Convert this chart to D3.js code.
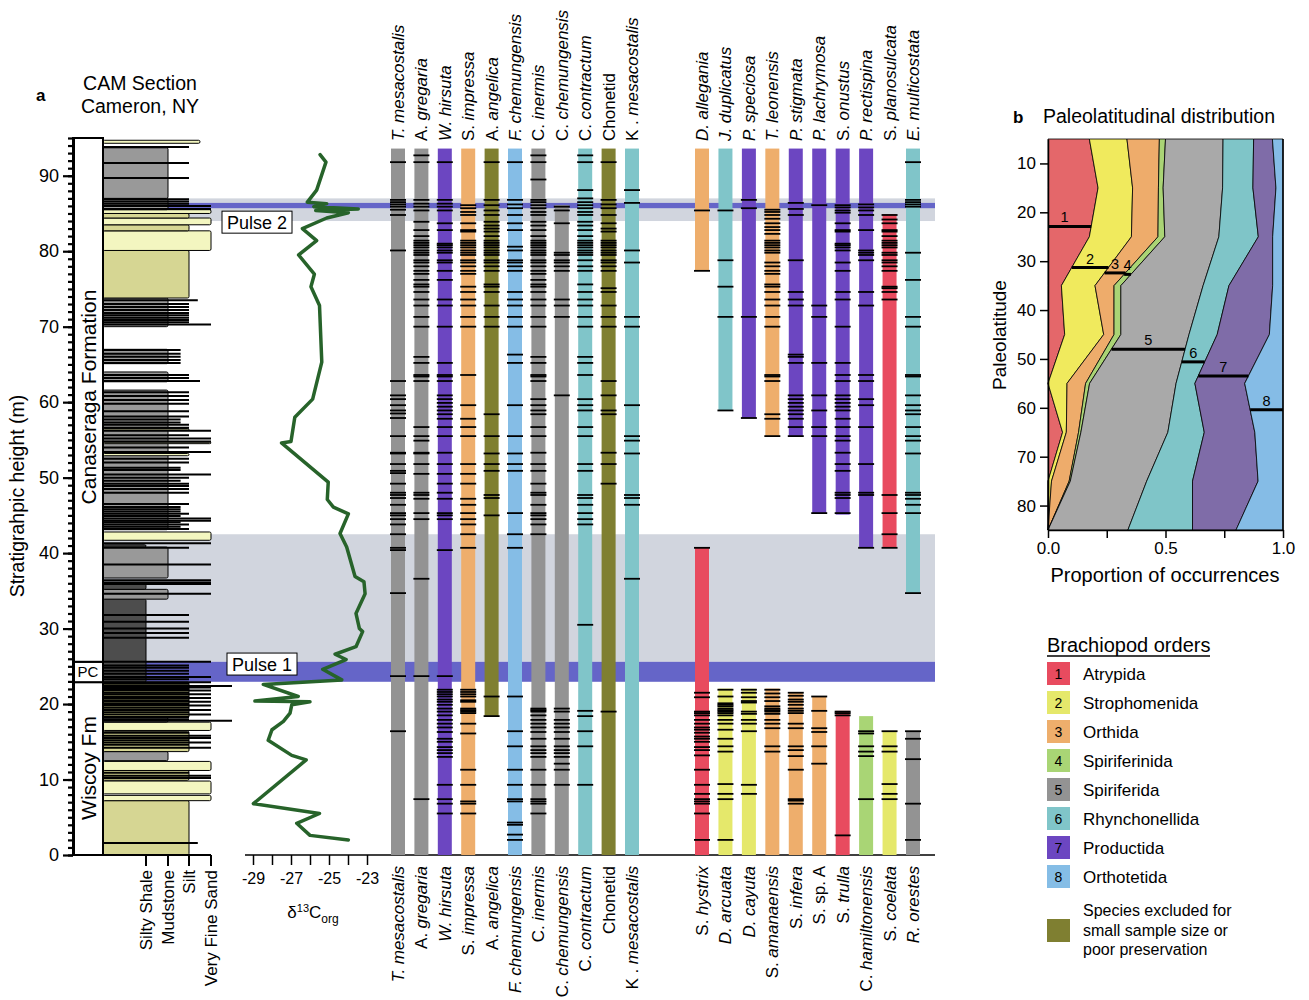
<!DOCTYPE html>
<html>
<head>
<meta charset="utf-8">
<script src="https://cdn.jsdelivr.net/npm/d3@7"></script>
<style>
  body { margin: 0; background: #fff; }
  svg text { font-family: "Liberation Sans", Arial, sans-serif; fill: #000; }
</style>
</head>
<body>
<div id="chart"></div>
<script>

// ---------- data: stratigraphy (heights in m) ----------

// lithology beds: [bottom, top, type, grain override]
var beds = [
  [0, 7.2, "silt"], [7.2, 7.9, "vfs"], [8.1, 9.8, "vfs"], [9.9, 11.2, "silt"],
  [11.2, 12.4, "vfs"], [12.5, 13.7, "mud"], [13.7, 16.4, "silt"], [16.5, 17.6, "vfs"],
  [17.6, 18.2, "mud"], [18.2, 22.9, "silt"], [22.9, 33.9, "shale"], [33.9, 35.2, "mud"],
  [35.2, 35.9, "shale"], [36.7, 40.8, "mud"], [40.8, 41.1, "shale"], [41.7, 42.8, "vfs"],
  [43.1, 61.6, "mud"], [52.9, 53.2, "vfs", 3], [54.5, 54.7, "vfs", 4], [56.3, 56.5, "vfs", 3],
  [62.7, 64.0, "mud"], [65.1, 67.0, "mud"], [70.0, 73.8, "mud"], [73.8, 80.1, "silt"],
  [80.1, 82.7, "vfs"], [82.7, 83.5, "silt"], [83.5, 84.4, "vfs"], [84.4, 85.0, "silt"],
  [85.0, 85.5, "vfs"], [85.5, 87.0, "mud"], [87.0, 93.7, "mud"], [94.3, 94.7, "vfs", 3.5]
];

// thin black beds: [height, grain reached]
var thinBeds = [
  [1.6, 3.4], [10.2, 4], [10.5, 4], [10.9, 3], [14.2, 4], [14.6, 3], [14.9, 4], [15.2, 3], [15.5, 4], [15.8, 4], [16.2, 3],
  [17.8, 5], [18.0, 3], [18.3, 3], [18.6, 4], [18.9, 3], [19.2, 4], [19.5, 3], [19.8, 4], [20.0, 3], [20.3, 4], [20.5, 3],
  [20.8, 4], [21.0, 3], [21.3, 4], [21.5, 3], [21.8, 4], [22.0, 3], [22.2, 4], [22.4, 5], [22.7, 3], [22.9, 4],
  [23.3, 3], [23.6, 4], [24.0, 3], [24.4, 3], [24.8, 3], [25.1, 3], [25.6, 4],
  [28.8, 3], [29.4, 3], [30.0, 3], [30.9, 3], [31.8, 3],
  [34.6, 4], [35.9, 4], [36.1, 4], [36.4, 4], [38.5, 4], [40.7, 3], [41.3, 4],
  [43.2, 3], [43.5, 2.6], [43.8, 3], [44.1, 2.6], [44.3, 4], [44.6, 4], [44.9, 2.6], [45.2, 3], [45.5, 2.6], [45.8, 2.6], [46.1, 2.6], [46.5, 3],
  [48.0, 3], [48.5, 3], [48.9, 3], [49.2, 3], [49.6, 2.6], [50.0, 3], [50.4, 4], [51.0, 2.6], [51.3, 2.6], [52.0, 3], [52.5, 3],
  [53.4, 4], [54.0, 3], [54.8, 4], [55.2, 4], [55.6, 3], [56.2, 4], [56.6, 3], [57.0, 3], [57.3, 2.6], [57.7, 2.6], [58.1, 3],
  [58.8, 3], [59.8, 3], [60.3, 3], [60.8, 3], [61.3, 3],
  [62.8, 3.5], [63.2, 3], [63.6, 3], [65.2, 2.6], [65.6, 2.6], [66.0, 2.6], [66.4, 2.6], [66.9, 2.6],
  [70.3, 4], [70.6, 3], [70.9, 3], [71.2, 3], [71.5, 3], [71.8, 3], [72.2, 3], [72.6, 3], [73.0, 3], [73.5, 3.4],
  [85.6, 4], [86.0, 4], [86.3, 3], [86.6, 3], [86.9, 3], [89.7, 3], [91.7, 3], [93.8, 3]
];

var grainTicks = ["Silty Shale", "Mudstone", "Silt", "Very Fine Sand"];

// formations: [bottom, top, label]
var formations = [[0, 22.9, "Wiscoy Fm"], [22.9, 25.6, "PC"], [25.6, 95, "Canaseraga Formation"]];

// bands
var grayBands = [[84.0, 87.0], [25.6, 42.5]];
var pulseBands = [[85.7, 86.4], [22.95, 25.6]];
var pulseNames = ["Pulse 2", "Pulse 1"];
var pulseLabelH = [83.85, 25.3];

// carbon isotope curve (height, d13C org), top to bottom
var isoHeight = [92.8, 91.8, 88.1, 86.5, 86.3, 85.9, 85.6, 85.4, 85.1, 84.4, 83.0, 81.4, 79.5, 76.95, 75.3, 72.8,
  65.3, 60.4, 58.0, 54.8, 54.6, 49.4, 47.1, 46.1, 45.2, 42.6, 40.8, 36.9, 36.2, 34.6, 32.0, 30.0, 29.6, 27.6,
  26.6, 25.9, 24.6, 23.2, 22.6, 21.0, 20.4, 20.3, 19.9, 18.8, 17.7, 16.6, 15.2, 13.2, 12.6, 6.8, 5.5, 4.2, 2.6, 2.0];
var isoValue = [-25.47, -25.16, -25.65, -26.14, -25.12, -25.8, -23.46, -25.7, -23.98, -25.12, -26.4, -25.65, -26.6, -25.77, -25.95, -25.5,
  -25.38, -25.86, -26.8, -27.0, -27.5, -25.04, -25.09, -24.77, -23.98, -24.42, -24.07, -23.63, -23.16, -23.1, -23.58, -23.4, -23.23, -23.58,
  -24.68, -24.1, -25.33, -24.33, -28.46, -26.62, -28.9, -26.0, -26.96, -27.05, -27.4, -28.0, -28.2, -26.96, -26.2, -28.98, -25.5, -26.7, -26.0, -23.98];

// ---------- data: species ranges ----------

var leftNames = ["T. mesacostalis", "A. gregaria", "W. hirsuta", "S. impressa", "A. angelica", "F. chemungensis",
  "C. inermis", "C. chemungensis", "C. contractum", "Chonetid", "K . mesacostalis"];
var leftItalicGenus = [1, 0, 1, 0, 0, 1, 0, 0, 0, 0, 0];
var leftOrder = ["Spi", "Spi", "Pro", "Ort", "Exc", "Oth", "Spi", "Spi", "Rhy", "Exc", "Rhy"];
var leftBase = [0, 0, 0, 0, 18.4, 0, 0, 0, 0, 0, 0];
var leftTop = [93.6, 93.6, 93.6, 93.6, 93.6, 93.6, 93.6, 86.1, 93.6, 93.6, 93.6];
var leftOcc = [
  [91.8, 86.8, 86.5, 86.2, 85.9, 85.5, 84.8, 80.1, 62.8, 60.9, 60.4, 59.6, 58.9, 58.5, 57.9, 55.5, 53.3, 53.2, 51.8, 50.9, 50.6,
    49.2, 48.0, 47.7, 47.3, 46.4, 45.3, 45.0, 44.5, 43.8, 42.5, 40.7, 40.4, 34.7, 23.7, 16.4],
  [92.7, 91.8, 86.8, 86.3, 85.9, 85.4, 83.9, 82.8, 82.0, 81.4, 81.1, 80.8, 80.5, 80.1, 79.8, 79.5, 78.8, 78.5, 78.0, 77.4, 77.0,
    76.2, 75.6, 75.3, 74.6, 73.6, 72.8, 71.3, 70.0, 66.0, 65.2, 63.6, 63.4, 62.8, 56.7, 55.5, 54.9, 53.3, 53.2, 51.8, 50.5, 48.0,
    47.7, 47.2, 45.3, 44.5, 36.6, 23.7, 7.4],
  [91.8, 86.8, 86.3, 85.9, 85.4, 83.7, 82.8, 81.0, 80.8, 80.5, 80.1, 79.8, 78.8, 78.5, 77.4, 76.2, 73.6, 72.8, 70.0, 65.2, 63.6,
    63.4, 62.8, 60.9, 60.4, 59.9, 59.4, 58.9, 58.4, 57.8, 56.7, 55.5, 53.3, 51.8, 50.5, 49.2, 48.0, 47.2, 45.3, 45.0, 44.5, 40.4,
    23.7, 21.9, 21.6, 21.3, 21.0, 20.6, 20.3, 19.9, 19.4, 19.0, 18.5, 17.9, 17.4, 16.9, 16.3, 15.4, 15.0, 14.3, 13.9, 13.5, 13.0,
    9.3, 7.4, 6.8, 5.5],
  [86.1, 85.7, 85.2, 84.8, 83.7, 82.8, 82.6, 81.4, 81.1, 80.8, 80.5, 80.1, 79.8, 79.5, 78.8, 78.5, 78.0, 77.4, 77.0, 75.3, 74.6,
    73.6, 72.8, 71.3, 70.0, 63.6, 59.6, 57.8, 56.7, 55.5, 51.8, 50.5, 49.2, 47.2, 46.4, 45.3, 44.5, 43.8, 42.5, 40.7,
    21.9, 21.6, 21.3, 21.0, 20.5, 20.3, 19.4, 19.2, 19.0, 18.8, 17.4, 16.1, 11.3, 9.3, 7.1, 6.8, 5.5],
  [91.8, 86.8, 86.1, 85.4, 84.8, 83.9, 83.4, 83.0, 82.6, 82.0, 81.4, 81.1, 80.8, 80.5, 80.1, 79.8, 79.5, 78.8, 78.5, 78.0, 77.4,
    75.6, 75.3, 74.6, 72.8, 71.3, 70.0, 58.4, 55.5, 53.2, 51.8, 50.9, 47.7, 47.3, 45.0, 21.0, 18.4],
  [91.8, 86.8, 86.2, 85.7, 84.8, 83.7, 82.8, 80.6, 80.1, 78.8, 78.5, 78.0, 77.4, 74.6, 73.6, 72.8, 71.3, 70.0, 66.3, 65.2, 59.6,
    55.5, 53.2, 51.8, 50.9, 45.3, 42.5, 40.7, 21.0, 16.4, 14.4, 11.3, 9.3, 7.4, 7.1, 4.3, 4.0, 2.7, 2.0],
  [92.7, 91.8, 89.5, 86.8, 86.5, 86.1, 85.7, 85.2, 84.8, 83.9, 83.4, 82.8, 82.0, 81.4, 81.1, 80.8, 80.5, 80.1, 79.8, 79.5, 78.8,
    78.5, 78.0, 77.4, 77.0, 76.2, 75.6, 75.3, 74.6, 73.6, 72.8, 71.3, 70.0, 66.0, 65.2, 63.6, 63.4, 62.8, 60.4, 59.6, 58.9, 58.4,
    56.7, 55.5, 53.3, 51.8, 50.9, 49.2, 48.0, 47.7, 46.4, 45.3, 45.0, 44.5, 43.8, 42.5,
    19.4, 19.2, 19.0, 18.5, 17.9, 17.4, 16.9, 16.3, 15.4, 14.4, 13.9, 13.5, 13.0, 11.3, 9.3, 7.4, 7.1, 6.8, 5.5],
  [85.9, 85.4, 83.7, 79.8, 79.5, 78.8, 78.5, 78.0, 77.4, 73.6, 72.8, 71.3, 60.9,
    19.4, 19.0, 17.9, 17.4, 16.9, 16.3, 15.4, 14.4, 13.9, 13.5, 13.0, 12.1, 11.3, 9.3],
  [92.7, 91.8, 88.1, 87.0, 86.5, 86.1, 85.7, 85.2, 84.8, 83.9, 83.4, 82.8, 82.0, 81.4, 81.1, 80.8, 80.5, 80.1, 79.8, 79.5, 78.8,
    78.0, 77.4, 75.6, 74.6, 73.6, 72.8, 71.3, 70.0, 66.0, 65.2, 63.6, 60.4, 59.6, 58.9, 56.7, 55.5, 51.8, 50.9, 47.7, 47.3, 46.4,
    45.3, 44.5, 43.8, 30.5, 19.1, 18.4, 16.4, 14.4, 9.3],
  [91.8, 86.8, 86.2, 85.7, 84.8, 83.7, 83.0, 82.6, 81.4, 81.1, 80.8, 80.5, 80.1, 79.8, 79.5, 78.8, 78.5, 78.0, 77.4, 75.1, 74.6,
    72.8, 71.3, 70.0, 62.8, 60.9, 58.9, 58.4, 53.3, 51.8, 49.2, 19.0],
  [88.1, 86.4, 80.1, 78.5, 71.3, 70.0, 59.6, 55.5, 54.9, 53.2, 47.7, 47.3, 46.4, 36.6]
];

var rtNames = ["D. allegania", "J. duplicatus", "P. speciosa", "T. leonensis", "P. stigmata", "P. lachrymosa",
  "S. onustus", "P. rectispina", "S. planosulcata", "E. multicostata"];
var rtItalicGenus = [1, 1, 1, 1, 1, 1, 0, 1, 0, 1];
var rtOrder = ["Ort", "Rhy", "Pro", "Ort", "Pro", "Pro", "Pro", "Pro", "Atr", "Rhy"];
var rtBase = [77.4, 58.9, 57.9, 55.5, 55.5, 45.3, 45.1, 40.7, 40.7, 34.6];
var rtTop = [93.6, 93.6, 93.6, 93.6, 93.6, 93.6, 93.6, 93.6, 84.9, 93.6];
var rtOcc = [
  [85.4, 77.4],
  [85.4, 78.8, 75.3, 71.3, 58.9],
  [86.8, 85.7, 71.3, 57.9],
  [85.5, 85.2, 84.8, 84.3, 83.7, 83.2, 82.8, 82.3, 81.4, 81.1, 80.8, 80.5, 80.1, 79.8, 78.5, 78.0, 77.4, 77.0, 75.6, 75.3, 74.6,
    73.6, 72.8, 71.3, 70.0, 63.6, 63.4, 62.8, 58.4, 57.8, 55.5],
  [86.4, 85.6, 84.8, 78.8, 74.6, 73.6, 72.8, 66.3, 66.0, 65.2, 60.9, 60.4, 59.9, 59.4, 58.9, 58.4, 57.8, 56.7, 55.5],
  [86.1, 72.8, 71.3, 65.2, 60.9, 58.9, 56.7, 55.5, 45.3],
  [86.1, 85.8, 85.4, 85.1, 83.7, 82.8, 82.6, 81.0, 80.8, 80.5, 80.1, 78.5, 77.4, 74.6, 73.6, 70.0, 65.2, 63.6, 62.8, 60.9, 60.4,
    59.9, 59.4, 58.9, 57.8, 56.7, 55.5, 54.9, 53.3, 51.8, 50.9, 48.0, 47.7, 47.3, 45.3],
  [86.2, 85.8, 85.4, 84.8, 82.8, 80.1, 79.8, 79.5, 78.8, 74.6, 72.8, 63.6, 62.8, 60.4, 59.6, 56.7, 51.8, 48.0, 47.7, 40.7],
  [84.8, 84.2, 83.7, 82.8, 82.6, 82.0, 81.4, 81.1, 80.8, 80.5, 79.8, 79.5, 78.8, 78.5, 78.0, 77.4, 75.3, 75.1, 74.6, 73.6, 47.7,
    45.3, 42.5, 40.7],
  [91.8, 86.8, 86.5, 86.2, 85.9, 79.8, 76.2, 71.3, 70.0, 63.6, 63.4, 60.9, 59.6, 58.9, 58.4, 56.7, 55.5, 54.9, 53.2, 48.0, 47.7,
    47.2, 46.4, 45.3, 34.7]
];

var rbNames = ["S. hystrix", "D. arcuata", "D. cayuta", "S. amanaensis", "S. infera", "S. sp. A", "S. trulla",
  "C. hamiltonensis", "S. coelata", "R. orestes"];
var rbItalicGenus = [0, 1, 1, 0, 0, 0, 0, 0, 0, 1];
var rbOrder = ["Atr", "Str", "Str", "Ort", "Ort", "Ort", "Atr", "Spn", "Str", "Spi"];
var rbTop = [40.8, 22.05, 22.05, 22.05, 21.6, 21.0, 19.1, 18.4, 16.45, 16.45];
var rbOcc = [
  [40.7, 21.5, 20.9, 19.0, 18.8, 18.5, 17.9, 17.4, 16.9, 16.6, 16.2, 15.7, 15.4, 15.0, 14.3, 13.9, 13.2, 11.3, 9.3, 8.1, 7.4,
    7.1, 6.8, 5.5, 2.0],
  [21.9, 21.0, 20.1, 19.9, 19.7, 19.4, 19.2, 19.0, 18.8, 18.5, 17.9, 17.4, 16.6, 15.4, 14.4, 13.7, 9.4, 8.1, 7.4, 2.0],
  [21.9, 21.5, 20.9, 20.4, 20.2, 19.0, 18.7, 17.9, 17.4, 16.4, 9.3, 8.1],
  [21.9, 21.4, 20.9, 20.4, 19.7, 19.4, 19.2, 19.0, 18.7, 17.9, 17.4, 16.8, 14.4, 13.7],
  [21.5, 21.1, 20.6, 20.3, 19.9, 19.4, 19.1, 18.8, 17.4, 16.8, 14.4, 13.9, 13.1, 11.3, 7.4, 7.2, 6.8],
  [21.0, 19.1, 16.8, 16.3, 14.4, 12.1],
  [19.0, 18.8, 18.5, 2.6],
  [16.4, 16.1, 14.4, 13.7, 13.1, 7.4],
  [16.4, 14.4, 13.7, 9.4, 8.1, 7.4],
  [16.4, 15.4, 12.7, 6.8, 2.0]
];

// ---------- data: panel b ----------
var latBins = [5, 15, 25, 35, 45, 55, 65, 75, 85];
var propAtr = [0.176, 0.213, 0.176, 0.057, 0.071, 0, 0.062, 0, 0];
var propStr = [0.160, 0.147, 0.179, 0.143, 0.166, 0.081, 0.016, 0.015, 0];
var propOrt = [0.138, 0.110, 0.113, 0.081, 0.044, 0.079, 0.052, 0.075, 0];
var propSpn = [0.026, 0.020, 0.029, 0.029, 0.029, 0.017, 0.010, 0.005, 0];
var propSpi = [0.245, 0.253, 0.230, 0.350, 0.290, 0.368, 0.370, 0.325, 0.340];
var propRhy = [0.130, 0.129, 0.168, 0.110, 0.120, 0.080, 0.155, 0.195, 0.275];
var propPro = [0.080, 0.098, 0.061, 0.186, 0.222, 0.212, 0.215, 0.279, 0.185];
var propOth = [0.045, 0.030, 0.044, 0.044, 0.058, 0.163, 0.120, 0.106, 0.200];
var medianLat = [22.9, 31.3, 32.4, 32.7, 48.0, 50.6, 53.5, 60.4];

var orderKeys = ["Atr", "Str", "Ort", "Spn", "Spi", "Rhy", "Pro", "Oth"];
var orderNames = ["Atrypida", "Strophomenida", "Orthida", "Spiriferinida", "Spiriferida", "Rhynchonellida", "Productida", "Orthotetida"];

// colours
var colA = { Atr: "#e84b5f", Str: "#e5e86b", Ort: "#eeae6c", Spn: "#a9d575", Spi: "#939393",
  Rhy: "#80c5c9", Pro: "#6c46c1", Oth: "#85bde6", Exc: "#7f7f31" };
var colB = { Atr: "#e4676a", Str: "#f0ea5d", Ort: "#eeac6b", Spn: "#aad475", Spi: "#a9a9a9",
  Rhy: "#7fc5c8", Pro: "#7f6ca8", Oth: "#85bce6" };
var lithCol = { shale: "#4d4d4d", mud: "#999999", silt: "#d6d693", vfs: "#f3f6c0" };
var lithGrain = { shale: 1, mud: 2, silt: 3, vfs: 4 };

// ---------- chart ----------
var svg = d3.select("#chart").append("svg").attr("width", 1309).attr("height", 1000);

var y = d3.scaleLinear().domain([0, 95]).range([855, 138]);
var xGrain = d3.scaleLinear().domain([0, 1, 2, 3, 4, 5]).range([103, 146, 168, 189, 211, 232]);
var xIso = d3.scaleLinear().domain([-29, -23]).range([253, 367]);
var xLeft = d3.scalePoint().domain(d3.range(leftNames.length)).range([398, 632]);
var xRight = d3.scalePoint().domain(d3.range(10)).range([702, 913]);
var barW = 14;

// titles
svg.append("text").attr("x", 36).attr("y", 101).style("font-size", "17px").style("font-weight", "bold").text("a");
svg.append("text").attr("x", 140).attr("y", 90).attr("text-anchor", "middle").style("font-size", "19.5px").text("CAM Section");
svg.append("text").attr("x", 140).attr("y", 113).attr("text-anchor", "middle").style("font-size", "19.5px").text("Cameron, NY");

// bands
svg.selectAll(".gband").data(grayBands).enter().append("rect")
  .attr("x", 103).attr("width", 832)
  .attr("y", function(d) { return y(d[1]); })
  .attr("height", function(d) { return y(d[0]) - y(d[1]); })
  .attr("fill", "#d1d5de");
svg.selectAll(".pband").data(pulseBands).enter().append("rect")
  .attr("x", 103).attr("width", 832)
  .attr("y", function(d) { return y(d[1]); })
  .attr("height", function(d) { return y(d[0]) - y(d[1]); })
  .attr("fill", "#6565c8");

// lithology
svg.selectAll(".bed").data(beds).enter().append("rect")
  .attr("x", 103)
  .attr("y", function(d) { return y(d[1]); })
  .attr("width", function(d) { return xGrain(d[3] || lithGrain[d[2]]) - 103; })
  .attr("height", function(d) { return Math.max(1, y(d[0]) - y(d[1])); })
  .attr("rx", 1.5)
  .attr("fill", function(d) { return lithCol[d[2]]; })
  .attr("stroke", "#000").attr("stroke-width", 1);

svg.selectAll(".thin").data(thinBeds).enter().append("line")
  .attr("x1", 103).attr("x2", function(d) { return xGrain(d[1]); })
  .attr("y1", function(d) { return y(d[0]); }).attr("y2", function(d) { return y(d[0]); })
  .attr("stroke", "#000").attr("stroke-width", 2);

// lithology axis
svg.append("line").attr("x1", 103).attr("x2", 211).attr("y1", 855).attr("y2", 855).attr("stroke", "#000").attr("stroke-width", 2);
grainTicks.forEach(function(t, i) {
  var gx = xGrain(i + 1);
  svg.append("line").attr("x1", gx).attr("x2", gx).attr("y1", 855).attr("y2", 866).attr("stroke", "#000").attr("stroke-width", 2);
  svg.append("text").attr("transform", "translate(" + (gx + 6) + ",870) rotate(-90)")
    .attr("text-anchor", "end").style("font-size", "17px").text(t);
});

// formation boxes
svg.selectAll(".fm").data(formations).enter().append("rect")
  .attr("x", 73).attr("width", 30)
  .attr("y", function(d) { return y(d[1]); })
  .attr("height", function(d) { return y(d[0]) - y(d[1]); })
  .attr("fill", "#fff").attr("stroke", "#000").attr("stroke-width", 2);
formations.forEach(function(f) {
  var cy = (y(f[0]) + y(f[1])) / 2;
  if (f[2] == "PC") {
    svg.append("text").attr("x", 88).attr("y", cy + 5.5).attr("text-anchor", "middle").style("font-size", "15px").text(f[2]);
  } else {
    var cyl = f[2] == "Canaseraga Formation" ? 397 : 768;
    svg.append("text").attr("transform", "translate(96," + cyl + ") rotate(-90)")
      .attr("text-anchor", "middle").style("font-size", "21px").text(f[2]);
  }
});

// stratigraphic axis
var gMinor = svg.append("g").attr("transform", "translate(73,0)")
  .call(d3.axisLeft(y).tickValues(d3.range(0, 96, 1)).tickSize(5).tickSizeOuter(0).tickFormat(""));
gMinor.selectAll("line").attr("stroke-width", 2.2);
gMinor.select(".domain").attr("stroke-width", 3);
var gMajor = svg.append("g").attr("transform", "translate(73,0)")
  .call(d3.axisLeft(y).tickValues(d3.range(0, 91, 10)).tickSize(10).tickSizeOuter(0).tickPadding(4));
gMajor.select(".domain").remove();
gMajor.selectAll("line").attr("stroke-width", 2.2);
gMajor.selectAll("text").style("font-size", "18px").attr("fill", "#000");
svg.append("text").attr("transform", "translate(24,496) rotate(-90)").attr("text-anchor", "middle")
  .style("font-size", "19.5px").text("Stratigrahpic height (m)");

// isotope axis + long baseline
svg.append("line").attr("x1", 245).attr("x2", 935).attr("y1", 855).attr("y2", 855).attr("stroke", "#000").attr("stroke-width", 1.5);
var gIso = svg.append("g").attr("transform", "translate(0,855)")
  .call(d3.axisBottom(xIso).tickValues(d3.range(-29, -22, 1)).tickSize(10).tickPadding(8)
    .tickFormat(function(d) { return d % 2 ? String(d) : ""; }));
gIso.select(".domain").remove();
gIso.selectAll("line").attr("stroke-width", 1.5);
gIso.selectAll("text").style("font-size", "16px").attr("fill", "#000");
var dl = svg.append("text").attr("x", 313).attr("y", 918).attr("text-anchor", "middle").style("font-size", "17px");
dl.append("tspan").text("\u03b4");
dl.append("tspan").attr("dy", -6).style("font-size", "11px").text("13");
dl.append("tspan").attr("dy", 6).text("C");
dl.append("tspan").attr("dy", 5).style("font-size", "12px").text("org");

// isotope curve
var isoPts = isoHeight.map(function(h, i) { return [isoValue[i], h]; });
svg.append("path").datum(isoPts)
  .attr("fill", "none").attr("stroke", "#27632a").attr("stroke-width", 3.5)
  .attr("stroke-linejoin", "round").attr("stroke-linecap", "round")
  .attr("d", d3.line().x(function(d) { return xIso(d[0]); }).y(function(d) { return y(d[1]); }));

// pulse labels
pulseNames.forEach(function(p, i) {
  var bx = i == 0 ? 222 : 227, cy = y(pulseLabelH[i]);
  svg.append("rect").attr("x", bx).attr("y", cy - 11).attr("width", 70).attr("height", 22)
    .attr("fill", "#fff").attr("stroke", "#000").attr("stroke-width", 1);
  svg.append("text").attr("x", bx + 35).attr("y", cy + 6.5).attr("text-anchor", "middle").style("font-size", "18px").text(p);
});

// species label helper
function speciesLabel(x, yy, name, italicGenus, anchor) {
  var t = svg.append("text").attr("transform", "translate(" + x + "," + yy + ") rotate(-90)")
    .attr("text-anchor", anchor).style("font-size", "17px");
  var k = name.indexOf(". ");
  if (k < 0) { t.text(name); return; }
  var rest = name.slice(k + 2);
  t.append("tspan").style("font-style", italicGenus ? "italic" : "normal").text(name.slice(0, k + 1));
  t.append("tspan").attr("dx", 4.5).style("font-style", rest.indexOf("sp.") == 0 ? "normal" : "italic").text(rest);
}

function drawBars(cls, xs, names, orders, base, top, occ) {
  var g = svg.append("g").attr("class", cls);
  names.forEach(function(n, i) {
    var cx = xs(i);
    g.append("rect").attr("x", cx - barW / 2).attr("width", barW)
      .attr("y", y(top[i])).attr("height", y(base[i]) - y(top[i]))
      .attr("fill", colA[orders[i]]);
    g.selectAll(".occ" + i).data(occ[i]).enter().append("line")
      .attr("x1", cx - barW / 2 - 1).attr("x2", cx + barW / 2 + 1)
      .attr("y1", function(d) { return y(d); }).attr("y2", function(d) { return y(d); })
      .attr("stroke", "#000").attr("stroke-width", 1.8);
  });
}

drawBars("left", xLeft, leftNames, leftOrder, leftBase, leftTop, leftOcc);
drawBars("rtop", xRight, rtNames, rtOrder, rtBase, rtTop, rtOcc);
drawBars("rbot", xRight, rbNames, rbOrder, rbNames.map(function() { return 0; }), rbTop, rbOcc);

leftNames.forEach(function(n, i) {
  speciesLabel(xLeft(i) + 6, 141, n, leftItalicGenus[i], "start");
  speciesLabel(xLeft(i) + 6, 866, n, leftItalicGenus[i], "end");
});
rtNames.forEach(function(n, i) { speciesLabel(xRight(i) + 6, 141, n, rtItalicGenus[i], "start"); });
rbNames.forEach(function(n, i) { speciesLabel(xRight(i) + 6, 866, n, rbItalicGenus[i], "end"); });

// ---------- panel b ----------
var xP = d3.scaleLinear().domain([0, 1]).range([1048, 1283]);
var yP = d3.scaleLinear().domain([5, 85]).range([139, 530]);

var rows = latBins.map(function(lat, i) {
  return { lat: lat, Atr: propAtr[i], Str: propStr[i], Ort: propOrt[i], Spn: propSpn[i],
    Spi: propSpi[i], Rhy: propRhy[i], Pro: propPro[i], Oth: propOth[i] };
});
var stacked = d3.stack().keys(orderKeys)(rows);

var area = d3.area()
  .y(function(d) { return yP(d.data.lat); })
  .x0(function(d) { return xP(d[0]); })
  .x1(function(d) { return xP(d[1]); });

svg.append("g").selectAll("path").data(stacked).enter().append("path")
  .attr("d", area)
  .attr("fill", function(d) { return colB[d.key]; })
  .attr("stroke", "#000").attr("stroke-width", 0.8);

// median lines
stacked.forEach(function(s, k) {
  var m = medianLat[k];
  var j = Math.min(latBins.length - 2, Math.floor((m - latBins[0]) / 10));
  var t = (m - latBins[j]) / (latBins[j + 1] - latBins[j]);
  var a0 = s[j][0] + (s[j + 1][0] - s[j][0]) * t;
  var a1 = s[j][1] + (s[j + 1][1] - s[j][1]) * t;
  svg.append("line").attr("x1", xP(a0)).attr("x2", xP(a1)).attr("y1", yP(m)).attr("y2", yP(m))
    .attr("stroke", "#000").attr("stroke-width", 3);
  svg.append("text").attr("x", xP((a0 + a1) / 2) - (k == 0 ? 5 : 0)).attr("y", yP(m) - 4)
    .attr("text-anchor", "middle").style("font-size", "14.5px").text(k + 1);
});

svg.append("line").attr("x1", 1283).attr("x2", 1283).attr("y1", 139).attr("y2", 530).attr("stroke", "#000").attr("stroke-width", 1.5);
var gPy = svg.append("g").attr("transform", "translate(1048,0)")
  .call(d3.axisLeft(yP).tickValues(d3.range(10, 81, 10)).tickSize(8).tickSizeOuter(0).tickPadding(4));
gPy.select(".domain").attr("stroke-width", 1.5);
gPy.selectAll("line").attr("stroke-width", 1.5);
gPy.selectAll("text").style("font-size", "17px").attr("fill", "#000");
var gPx = svg.append("g").attr("transform", "translate(0,530)")
  .call(d3.axisBottom(xP).tickValues([0, 0.25, 0.5, 0.75, 1]).tickSize(8).tickSizeOuter(0).tickPadding(4)
    .tickFormat(function(d) { return d * 2 % 1 == 0 ? d.toFixed(1) : ""; }));
gPx.select(".domain").attr("stroke-width", 1.5);
gPx.selectAll("line").attr("stroke-width", 1.5);
gPx.selectAll("text").style("font-size", "17px").attr("fill", "#000");

svg.append("text").attr("transform", "translate(1006,335) rotate(-90)").attr("text-anchor", "middle")
  .style("font-size", "19px").text("Paleolatitude");
svg.append("text").attr("x", 1165).attr("y", 582).attr("text-anchor", "middle")
  .style("font-size", "20px").text("Proportion of occurrences");
svg.append("text").attr("x", 1013).attr("y", 123).style("font-size", "17px").style("font-weight", "bold").text("b");
svg.append("text").attr("x", 1043).attr("y", 123).style("font-size", "19.5px").text("Paleolatitudinal distribution");

// ---------- legend ----------
var lg = svg.append("g");
lg.append("text").attr("x", 1047).attr("y", 652).style("font-size", "20px").text("Brachiopod orders");
lg.append("line").attr("x1", 1047).attr("x2", 1210).attr("y1", 656).attr("y2", 656).attr("stroke", "#000").attr("stroke-width", 1.4);
orderKeys.forEach(function(k, i) {
  var ty = 662 + i * 29;
  lg.append("rect").attr("x", 1047).attr("y", ty).attr("width", 23).attr("height", 23).attr("fill", colA[k]);
  lg.append("text").attr("x", 1058.5).attr("y", ty + 16.5).attr("text-anchor", "middle").style("font-size", "14px").text(i + 1);
  lg.append("text").attr("x", 1083).attr("y", ty + 17.5).style("font-size", "17px").text(orderNames[i]);
});
lg.append("rect").attr("x", 1047).attr("y", 919).attr("width", 23).attr("height", 23).attr("fill", colA.Exc);
["Species excluded for", "small sample size or", "poor preservation"].forEach(function(s, i) {
  lg.append("text").attr("x", 1083).attr("y", 916 + i * 19.5).style("font-size", "16px").text(s);
});

</script>
</body>
</html>
